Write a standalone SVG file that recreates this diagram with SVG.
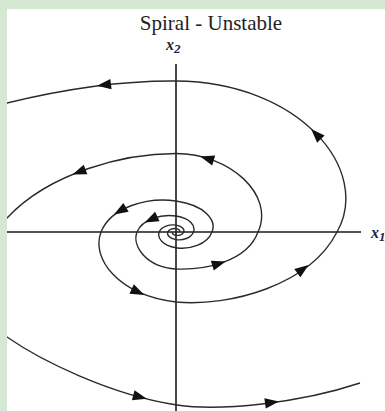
<svg xmlns="http://www.w3.org/2000/svg" xmlns:xlink="http://www.w3.org/1999/xlink" width="385" height="411" viewBox="0 0 385 411">
<style>
.curve{fill:none;stroke:#2a2a2a;stroke-width:1.4;stroke-linejoin:round}
.axis{stroke:#1a1a1a;stroke-width:1.6}
.ah{fill:#111}
.title{font-family:"Liberation Serif","Times New Roman",serif;font-size:21px;fill:#1e1e1e}
.lbl{font-family:"Liberation Serif","Times New Roman",serif;font-style:italic;font-weight:bold;font-size:16px;fill:#1c2340}
</style>
<defs>
<clipPath id="plot"><rect x="7" y="9" width="378" height="402"/></clipPath>
<path id="arrow" class="ah" d="M7,0 L-7,-5.2 L-7,5.2 Z"/>
</defs>
<rect x="0" y="0" width="385" height="411" fill="#d5e8d4"/>
<rect x="7" y="9" width="378" height="402" fill="#ffffff"/>
<g id="title"><text class="title" x="211" y="30" text-anchor="middle">Spiral - Unstable</text></g>
<g id="axes">
<line class="axis" x1="7" y1="232" x2="361" y2="232"/>
<line class="axis" x1="176" y1="64" x2="176" y2="411"/>
<text class="lbl" x="166" y="50">x<tspan font-size="13" dy="3">2</tspan></text>
<text class="lbl" x="371" y="238">x<tspan font-size="13" dy="3">1</tspan></text>
</g>
<g id="connectors" clip-path="url(#plot)">
<path id="c1" class="curve" d="M172.4,232 C171.92,233.24 173.09,234.86 176,235.3 C178.9,235.74 182.66,234.67 183.7,232 C184.74,229.4 182.23,226.03 176,225.1 C169.67,224.17 161.46,226.41 159.2,232 C156.94,237.91 162.4,245.59 176,247.7 C189.56,249.81 207.16,244.71 212,232 C216.84,220.32 205.15,205.17 176,201 C147.75,196.83 111.09,206.9 101,232 C90.91,258.37 118,295 176,302 C230,307 310,285 337,232 C372,170 300,82 176,81 C120,80.5 60,90 7,103 l-20,4.9"/>
<path id="c2" class="curve" d="M179.8,232 C180.31,230.72 179.08,229.06 176,228.6 C172.91,228.14 168.9,229.25 167.8,232 C166.7,234.86 169.36,238.58 176,239.6 C182.59,240.62 191.15,238.15 193.5,232 C195.85,225.97 190.17,218.15 176,216 C161.31,213.85 142.25,219.04 137,232 C131.75,245.94 146,267 176,269 C205,270 246.97,261.96 258,232 C275,195 230,153.5 176,153.5 C125,153.5 50,172 7,218 l-20,21.4"/>
<path id="c2b" class="curve" d="M-13,323 L7,337 C40,360 110,395 177,405 C220,411.5 300,403 360,383"/>
<use xlink:href="#arrow" transform="translate(104,85) rotate(173)"/>
<use xlink:href="#arrow" transform="translate(316,134) rotate(-134)"/>
<use xlink:href="#arrow" transform="translate(303,269) rotate(-36)"/>
<use xlink:href="#arrow" transform="translate(138,292) rotate(25)"/>
<use xlink:href="#arrow" transform="translate(120,211) rotate(149)"/>
<use xlink:href="#arrow" transform="translate(79,172) rotate(159)"/>
<use xlink:href="#arrow" transform="translate(207,158.5) rotate(197)"/>
<use xlink:href="#arrow" transform="translate(219,263.6) rotate(-17)"/>
<use xlink:href="#arrow" transform="translate(151,219.5) rotate(155)"/>
<use xlink:href="#arrow" transform="translate(140,397) rotate(15)"/>
<use xlink:href="#arrow" transform="translate(272,402.5) rotate(-8)"/>
</g>
</svg>
